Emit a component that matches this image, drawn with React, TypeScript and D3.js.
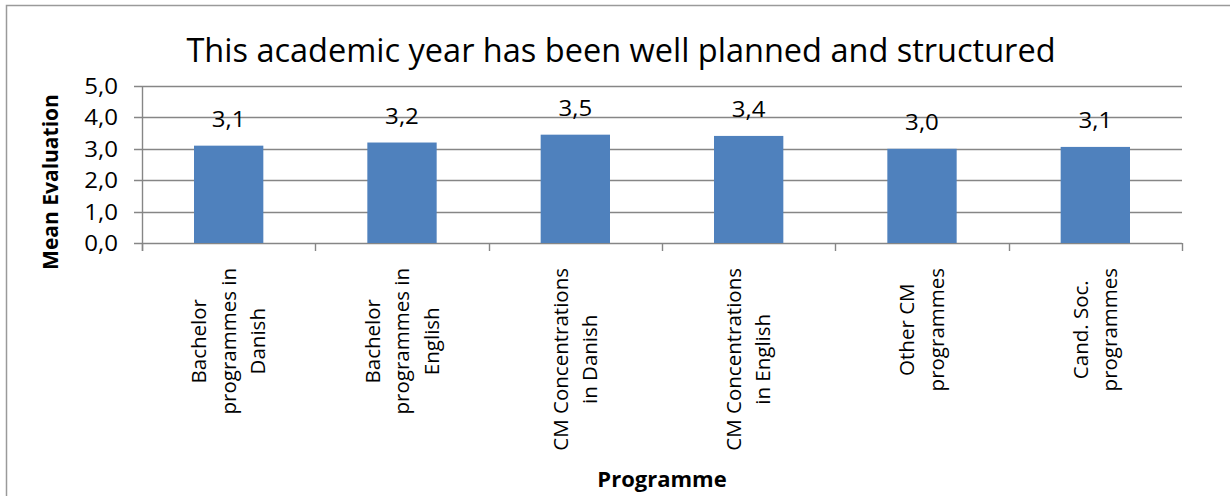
import React, { useRef, useEffect } from 'react'
import * as d3 from 'd3'

const categories = [
  ['Bachelor', 'programmes in', 'Danish'],
  ['Bachelor', 'programmes in', 'English'],
  ['CM Concentrations', 'in Danish'],
  ['CM Concentrations', 'in English'],
  ['Other CM', 'programmes'],
  ['Cand. Soc.', 'programmes'],
]
const meanValues = [3.1, 3.2, 3.45, 3.41, 3.0, 3.06]
const valueLabels = ['3,1', '3,2', '3,5', '3,4', '3,0', '3,1']
const yTicks = [0, 1, 2, 3, 4, 5]

const chartTitle = 'This academic year has been well planned and structured'
const xTitle = 'Programme'
const yTitle = 'Mean Evaluation'

const W = 1230
const H = 496
const plot = { left: 142, right: 1182, top: 86, bottom: 243 }
const font = '"Open Sans", sans-serif'
const gridColor = '#868686'
const barColor = '#4F81BD'

function App() {
  const ref = useRef<SVGSVGElement>(null)

  useEffect(() => {
    document.body.style.margin = '0'
    const svg = d3.select(ref.current)
    svg.selectAll('*').remove()

    const x = d3.scaleBand<number>()
      .domain(d3.range(categories.length))
      .range([plot.left, plot.right])
      .paddingInner(0.6)
      .paddingOuter(0.3)
    const step = (plot.right - plot.left) / categories.length
    const y = d3.scaleLinear().domain([0, 5]).range([plot.bottom, plot.top])

    // frame (only top and left edge are inside the picture)
    svg.append('path')
      .attr('d', `M6.5,${H} V5.5 H${W}`)
      .attr('fill', 'none')
      .attr('stroke', '#9a9a9a')
      .attr('stroke-width', 1.5)

    // gridlines + y ticks
    const g = svg.append('g')
    yTicks.forEach(t => {
      const yy = Math.round(y(t)) + 0.5
      g.append('line')
        .attr('x1', plot.left - 8).attr('x2', plot.right)
        .attr('y1', yy).attr('y2', yy)
        .attr('stroke', gridColor).attr('stroke-width', 1.4)
      g.append('text')
        .attr('transform', `translate(${plot.left - 24},${yy}) scale(1.12,1)`)
        .attr('dy', '0.36em')
        .attr('text-anchor', 'end')
        .attr('font-family', font)
        .attr('font-size', 21.5)
        .attr('fill', '#000')
        .text(d3.format('.1f')(t).replace('.', ','))
    })

    // y axis line
    g.append('line')
      .attr('x1', plot.left + 0.5).attr('x2', plot.left + 0.5)
      .attr('y1', plot.top).attr('y2', plot.bottom + 8)
      .attr('stroke', gridColor).attr('stroke-width', 1.4)

    // x ticks at band boundaries
    d3.range(categories.length + 1).forEach(i => {
      const xx = Math.round(plot.left + i * step) + 0.5
      g.append('line')
        .attr('x1', xx).attr('x2', xx)
        .attr('y1', plot.bottom).attr('y2', plot.bottom + 8)
        .attr('stroke', gridColor).attr('stroke-width', 1.4)
    })

    // bars
    svg.append('g').selectAll('rect')
      .data(meanValues)
      .join('rect')
      .attr('x', (_, i) => x(i)!)
      .attr('width', x.bandwidth())
      .attr('y', d => y(d))
      .attr('height', d => y(0) - y(d))
      .attr('fill', barColor)

    // value labels
    svg.append('g').selectAll('text')
      .data(meanValues)
      .join('text')
      .attr('transform', (d, i) => `translate(${x(i)! + x.bandwidth() / 2},${y(d) - 19}) scale(1.12,1)`)
      .attr('text-anchor', 'middle')
      .attr('font-family', font)
      .attr('font-size', 21.5)
      .attr('fill', '#000')
      .text((_, i) => valueLabels[i])

    // category labels, rotated, top aligned under axis
    const lineH = 29.5
    categories.forEach((lines, i) => {
      const cx = x(i)! + x.bandwidth() / 2
      const grp = svg.append('g')
      const texts = lines.map(l => grp.append('text')
        .attr('font-family', font)
        .attr('font-size', 20.5)
        .attr('fill', '#000')
        .attr('text-anchor', 'middle')
        .text(l))
      const maxW = d3.max(texts, t => (t.node() as SVGTextElement).getComputedTextLength()) || 0
      const cy = 268 + maxW / 2
      texts.forEach((t, j) => {
        const bx = cx + (j - (lines.length - 1) / 2) * lineH + 7
        t.attr('transform', `translate(${bx},${cy}) rotate(-90)`)
      })
    })

    // titles
    svg.append('text')
      .attr('x', 621).attr('y', 62)
      .attr('text-anchor', 'middle')
      .attr('font-family', font)
      .attr('font-size', 32.5)
      .attr('fill', '#000')
      .text(chartTitle)

    svg.append('text')
      .attr('x', 662).attr('y', 487)
      .attr('text-anchor', 'middle')
      .attr('font-family', font)
      .attr('font-weight', 'bold')
      .attr('font-size', 22)
      .attr('fill', '#000')
      .text(xTitle)

    svg.append('text')
      .attr('transform', 'translate(58,182) rotate(-90)')
      .attr('text-anchor', 'middle')
      .attr('font-family', font)
      .attr('font-weight', 'bold')
      .attr('font-size', 21)
      .attr('fill', '#000')
      .text(yTitle)
  }, [])

  return (
    <svg ref={ref} width={W} height={H} style={{ display: 'block', background: '#fff' }} />
  )
}

export default App
